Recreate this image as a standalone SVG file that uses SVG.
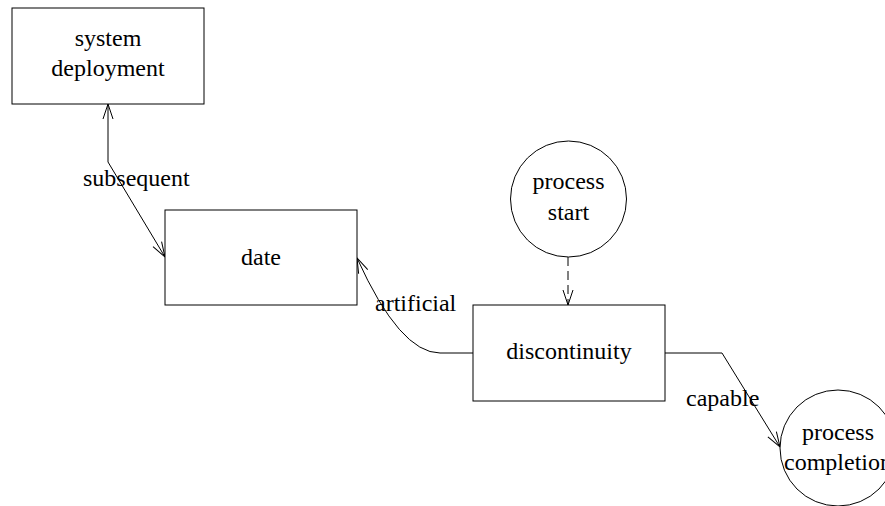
<svg xmlns="http://www.w3.org/2000/svg" width="885" height="506" viewBox="0 0 885 506">
<style>
.node{fill:#fff;stroke:#000;stroke-width:1}
.t{font-family:"Liberation Serif","Times New Roman",serif;font-size:24px;fill:#000;text-anchor:middle}
.l{font-family:"Liberation Serif","Times New Roman",serif;font-size:24px;fill:#000}
.e{fill:none;stroke:#000;stroke-width:1}
</style>
<defs>
<marker id="a" markerUnits="userSpaceOnUse" viewBox="-16 -6 18 12" refX="0" refY="0" markerWidth="18" markerHeight="12" orient="auto-start-reverse">
<path d="M-15,-5 L0,0 L-15,5" fill="none" stroke="#000" stroke-width="1"/>
</marker>
</defs>
<rect width="885" height="506" fill="#fff"/>
<g id="edges">
<path class="e" d="M108,104 L108,162 L165,257" marker-start="url(#a)" marker-end="url(#a)"/>
<path class="e" d="M473,353 L440,353 Q400,353 357,258" marker-end="url(#a)"/>
<path class="e" d="M568,257 L568,305" stroke-dasharray="9,5" marker-end="url(#a)"/>
<path class="e" d="M665,353 L722,353 L780,447" marker-end="url(#a)"/>
<text class="l" x="83" y="186">subsequent</text>
<text class="l" x="375" y="311">artificial</text>
<text class="l" x="686" y="406">capable</text>
</g>
<g id="system-deployment">
<rect class="node" x="12" y="8" width="192" height="96"/>
<text class="t" x="108" y="46">system</text>
<text class="t" x="108" y="76">deployment</text>
</g>
<g id="date">
<rect class="node" x="165" y="210" width="192" height="95"/>
<text class="t" x="261" y="265">date</text>
</g>
<g id="process-start">
<circle class="node" cx="568.5" cy="199" r="58"/>
<text class="t" x="568.5" y="189">process</text>
<text class="t" x="568.5" y="220">start</text>
</g>
<g id="discontinuity">
<rect class="node" x="473" y="305" width="192" height="96"/>
<text class="t" x="569" y="359">discontinuity</text>
</g>
<g id="process-completion">
<circle class="node" cx="838" cy="448" r="58"/>
<text class="t" x="838" y="440">process</text>
<text class="t" x="838" y="470">completion</text>
</g>
</svg>
